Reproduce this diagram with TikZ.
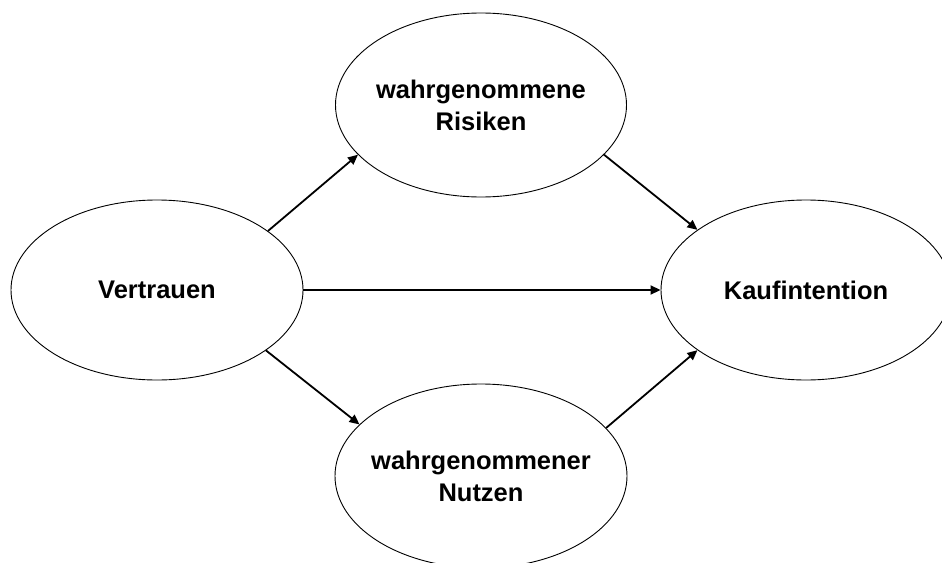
\documentclass[tikz,border=0pt]{standalone}
\usepackage{fontspec}
\setmainfont{Liberation Sans}
\usetikzlibrary{arrows.meta,shapes.geometric}
\begin{document}
\begin{tikzpicture}[x=1pt,y=-1pt,
  construct/.style={draw=black, line width=0.9pt, ellipse, inner sep=0pt},
  ctext/.style={inner sep=0pt, align=center, font=\fontsize{25.5}{32}\selectfont\bfseries},
  arr/.style={draw=black, line width=1.8pt, -{Triangle[length=10pt,width=9pt]}}]
\path[use as bounding box] (0,0) rectangle (942,562);
\clip (0,0) rectangle (942,562);
\node[construct, minimum width=292pt, minimum height=180pt] (v) at (157,290) {};
\node[construct, minimum width=291pt, minimum height=184pt] (r) at (481,105) {};
\node[construct, minimum width=290pt, minimum height=180pt] (k) at (806,290) {};
\node[construct, minimum width=292pt, minimum height=184pt] (n) at (481,476) {};
\node[ctext] (vt) at (v.center) {Vertrauen};
\node[ctext] (rt) at (r.center) {wahrgenommene\\Risiken};
\node[ctext] (kt) at (k.center) {Kaufintention};
\node[ctext] (nt) at (n.center) {wahrgenommener\\Nutzen};
\draw[arr] (v.28) -- (r.202);
\draw[arr] (r.-22) -- (k.151);
\draw[arr] (v.0) -- (k.180);
\draw[arr] (v.-29) -- (n.157.5);
\draw[arr] (n.21) -- (k.209);
\end{tikzpicture}
\end{document}
